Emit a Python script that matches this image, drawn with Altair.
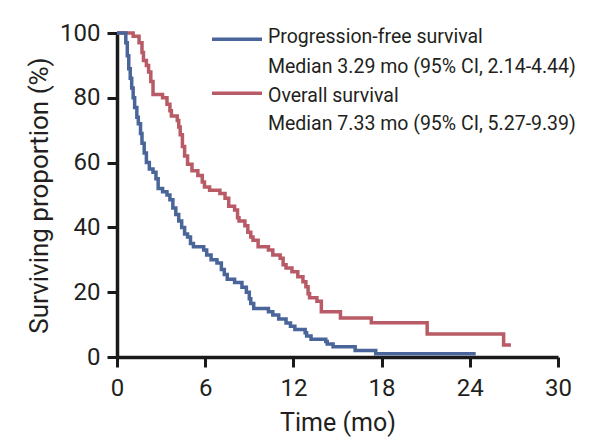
import altair as alt
import pandas as pd

# Progression-free survival (step-after): time (months), surviving %
pfs_t = [0, 0.6, 0.7, 0.8, 0.9, 1.0, 1.1, 1.2, 1.35, 1.45, 1.6, 1.7, 1.85, 2.0, 2.2, 2.45,
         2.65, 2.8, 3.1, 3.4, 3.6, 3.8, 4.0, 4.2, 4.4, 4.6, 4.8, 5.0, 5.2, 5.9, 6.1, 6.4,
         6.8, 7.1, 7.3, 7.5, 8.0, 8.5, 8.8, 9.0, 9.1, 9.3, 10.3, 10.6, 11.0, 11.5, 11.8,
         12.1, 12.8, 12.9, 13.2, 14.2, 14.3, 14.7, 16.2, 17.6, 24.4]
pfs_s = [100, 97, 93, 89, 86, 83, 80, 77, 74, 72, 69, 66, 63, 60, 58, 57,
         55, 52, 51, 50, 48.5, 46, 44, 42, 40, 38, 37, 35, 34, 33, 31.5, 30,
         29, 27, 25.5, 24, 23, 21.5, 20, 18, 16.5, 15, 14, 13, 11.7, 10.5, 9.5,
         8.5, 7.5, 6.5, 5.5, 4.8, 4, 3.2, 2, 1.0, 1.0]

# Overall survival
os_t = [0, 1.1, 1.5, 1.7, 1.8, 2.0, 2.15, 2.3, 2.45, 3.1, 3.4, 3.6, 3.7, 4.1, 4.2, 4.3,
        4.45, 4.6, 4.8, 5.1, 5.5, 5.8, 5.95, 6.3, 7.0, 7.35, 7.6, 8.0, 8.2, 8.3, 8.7,
        8.9, 9.1, 9.25, 9.6, 10.3, 10.6, 11.1, 11.3, 11.5, 11.9, 12.3, 12.65, 12.85,
        13.0, 13.1, 13.6, 13.9, 15.2, 17.3, 21.1, 26.3, 26.8]
os_s = [100, 99, 97, 94, 91.5, 90, 88, 85, 81, 80, 78, 76, 74.4, 73, 71, 68.6,
        65, 62, 59.5, 57.5, 56, 54, 52.5, 51.5, 50.5, 49, 46.5, 45.4, 43, 42, 40.5,
        38.5, 37, 36, 34, 33, 31.5, 30.5, 28.5, 27.5, 26.3, 24.8, 23.2, 21.7,
        19.5, 18.3, 17.2, 14, 12, 10.6, 7.1, 3.7, 3.7]

legend_lines = [
    "Progression-free survival",
    "Median 3.29 mo (95% CI, 2.14-4.44)",
    "Overall survival",
    "Median 7.33 mo (95% CI, 5.27-9.39)",
]
x_ticks = [0, 6, 12, 18, 24, 30]
y_ticks = [0, 20, 40, 60, 80, 100]

BLUE = "#4a6599"
RED = "#b85b66"
FONT = "Roboto"
INK = "#231f20"

pfs = pd.DataFrame({"t": pfs_t, "s": pfs_s})
osd = pd.DataFrame({"t": os_t, "s": os_s})

xenc = alt.X("t:Q", scale=alt.Scale(domain=[0, 30], nice=False, zero=False),
             axis=alt.Axis(values=x_ticks, title="Time (mo)", titleY=73,
                           titleBaseline="alphabetic", labelPadding=9,
                           titleFontSize=25))
yenc = alt.Y("s:Q", scale=alt.Scale(domain=[0, 100], nice=False),
             axis=alt.Axis(values=y_ticks, title="Surviving proportion (%)",
                           titleX=-70, titleY=162, titleAngle=-90,
                           titleBaseline="alphabetic", labelPadding=7,
                           titleFontSize=26))

os_line = alt.Chart(osd).mark_line(interpolate="step-after", color=RED, strokeWidth=3.5,
                                   clip=False).encode(x=xenc, y=yenc)
pfs_line = alt.Chart(pfs).mark_line(interpolate="step-after", color=BLUE, strokeWidth=3.5,
                                    clip=False).encode(x="t:Q", y="s:Q")

leg_df = pd.DataFrame({"txt": legend_lines, "yy": [10, 39.5, 68.5, 97]})
leg_text = alt.Chart(leg_df).mark_text(align="left", baseline="alphabetic", font=FONT,
                                       fontSize=19.5, color=INK).encode(
    text="txt:N", x=alt.value(151), y=alt.Y("yy:Q", scale=None))

leg_blue = alt.Chart(pd.DataFrame({"a": [0]})).mark_rule(color=BLUE, strokeWidth=3.5).encode(
    x=alt.value(95), x2=alt.value(145), y=alt.value(6.3))
leg_red = alt.Chart(pd.DataFrame({"a": [0]})).mark_rule(color=RED, strokeWidth=3.5).encode(
    x=alt.value(95), x2=alt.value(145), y=alt.value(60.3))

chart = alt.layer(os_line, pfs_line, leg_blue, leg_red, leg_text).properties(
    width=441, height=324,
    autosize=alt.AutoSizeParams(type="none"),
    padding={"left": 109, "top": 25, "right": 49, "bottom": 80},
).configure_view(stroke=None).configure_axis(
    grid=False, domainColor="#1a1a1a", domainWidth=3.5, tickColor="#1a1a1a",
    tickWidth=3, tickSize=10, labelFont=FONT, labelFontSize=24, labelColor=INK,
    labelFlush=False, labelOverlap=False,
    titleFont=FONT, titleFontWeight="normal", titleColor=INK,
)

chart.save("out.html", embed_options={"renderer": "svg", "actions": False})
